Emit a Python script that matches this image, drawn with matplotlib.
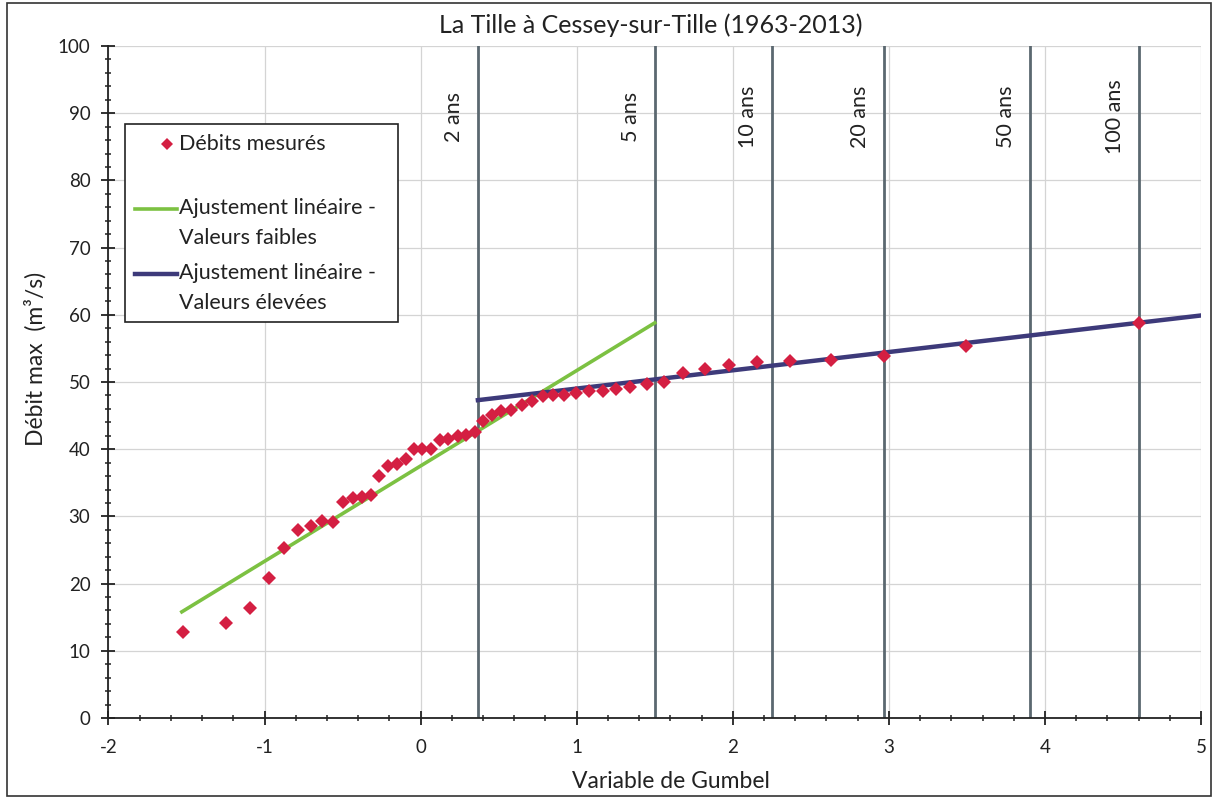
import numpy as np
import matplotlib.pyplot as plt
from matplotlib.patches import Rectangle
from matplotlib.ticker import MultipleLocator
from matplotlib.transforms import offset_copy

plt.rcParams['font.family'] = ['Lato', 'DejaVu Sans']
plt.rcParams['axes.unicode_minus'] = False

# Measured maxima: Gumbel reduced variable vs discharge (m3/s)
gumbel_x = [-1.521, -1.247, -1.094, -0.970, -0.876, -0.784, -0.705, -0.632, -0.564, -0.500,
            -0.436, -0.378, -0.318, -0.265, -0.211, -0.154, -0.096, -0.043, 0.010, 0.064,
            0.124, 0.177, 0.237, 0.290, 0.348, 0.401, 0.460, 0.518, 0.578, 0.647,
            0.711, 0.782, 0.846, 0.918, 0.995, 1.080, 1.166, 1.249, 1.341, 1.448,
            1.561, 1.682, 1.823, 1.974, 2.154, 2.368, 2.628, 2.969, 3.494, 4.602]
debit = [12.8, 14.2, 16.3, 20.9, 25.3, 28.0, 28.5, 29.3, 29.2, 32.1,
         32.7, 32.9, 33.2, 36.0, 37.5, 37.8, 38.5, 40.0, 40.0, 40.0,
         41.4, 41.5, 41.9, 42.1, 42.5, 44.2, 45.1, 45.7, 45.9, 46.6,
         47.2, 47.9, 48.1, 48.1, 48.3, 48.6, 48.6, 49.0, 49.2, 49.7,
         50.0, 51.4, 52.0, 52.5, 53.0, 53.1, 53.3, 53.8, 55.3, 58.8]

# linear fits (end points)
fit_low_x = [-1.53, 1.50]
fit_low_y = [15.8, 58.8]
fit_high_x = [0.367, 5.0]
fit_high_y = [47.3, 59.9]

# return periods
periods = ["2 ans", "5 ans", "10 ans", "20 ans", "50 ans", "100 ans"]
period_x = [0.367, 1.500, 2.250, 2.970, 3.902, 4.600]

fig = plt.figure(figsize=(12.16, 8.01), dpi=100)
ax = fig.add_axes([0.0892, 0.1036, 0.8985, 0.839])

# outer chart border
fig.patches.append(Rectangle((0.006, 0.006), 0.99, 0.99, transform=fig.transFigure,
                             fill=False, edgecolor="#333333", linewidth=1.2))

ax.set_xlim(-2, 5)
ax.set_ylim(0, 100)
ax.xaxis.set_major_locator(MultipleLocator(1))
ax.xaxis.set_minor_locator(MultipleLocator(0.2))
ax.yaxis.set_major_locator(MultipleLocator(10))
ax.yaxis.set_minor_locator(MultipleLocator(2))
ax.grid(True, which='major', color="#d4d4d4", linewidth=0.9)
ax.set_axisbelow(True)

for side in ['top', 'right']:
    ax.spines[side].set_visible(False)
for side in ['left', 'bottom']:
    ax.spines[side].set_color("#222222")
    ax.spines[side].set_linewidth(1.3)

ax.tick_params(which='major', direction='inout', length=10, width=1.3, color="#222222",
               labelsize=13.5, labelcolor="#222222", pad=8)
ax.tick_params(axis='x', which='major', pad=10)
ax.tick_params(which='minor', direction='inout', length=5, width=1.1, color="#222222")

# return period lines
for xv, lab in zip(period_x, periods):
    ax.axvline(xv, color="#5b6870", linewidth=2, zorder=2)
    tr = offset_copy(ax.transData, fig=fig, x=-24, y=0, units='dots')
    ax.text(xv, 89.5, lab, transform=tr, rotation=90, ha='center', va='center',
            fontsize=15.5, color="#222222")

ax.plot(fit_low_x, fit_low_y, color="#7cc142", linewidth=2.6, zorder=3,
        label="Ajustement linéaire -\nValeurs faibles")
ax.plot(fit_high_x, fit_high_y, color="#3d3a7a", linewidth=3.2, zorder=3,
        label="Ajustement linéaire -\nValeurs élevées")
ax.plot(gumbel_x, debit, linestyle='none', marker='D', markersize=7,
        color="#d41f42", markeredgewidth=0, zorder=4, label="Débits mesurés\n ")

handles, labels = ax.get_legend_handles_labels()
order = [2, 0, 1]
leg = ax.legend([handles[i] for i in order], [labels[i] for i in order],
                loc='upper left',
                bbox_to_anchor=(125 / 1216, 1 - 322 / 801, 273 / 1216, 198 / 801),
                bbox_transform=fig.transFigure, mode='expand', fontsize=15.5,
                frameon=True, fancybox=False, framealpha=1, edgecolor="#222222",
                handlelength=1.95, handletextpad=0.1, labelspacing=0.7,
                borderpad=0.45, borderaxespad=0, markerscale=0.85)
leg.get_frame().set_linewidth(1.2)
for t in leg.get_texts():
    t.set_linespacing(1.6)
    t.set_color("#222222")

# handles line up with the first text line; marker sits to the right of its slot
for h in leg.legend_handles:
    yd = np.asarray(h.get_ydata(), dtype=float)
    h.set_ydata(yd + 10.5)
mk = leg.legend_handles[0]
xd = np.asarray(mk.get_xdata(), dtype=float)
mk.set_xdata([xd[0], xd[0] + 0.78 * (xd[-1] - xd[0]), xd[-1]])

ax.set_xlabel("Variable de Gumbel", fontsize=16.5, color="#222222")
ax.xaxis.set_label_coords((671 - 108.5) / 1092.5, -0.079)
ax.set_ylabel("Débit max  (m³/s)", fontsize=16.5, color="#222222")
ax.yaxis.set_label_coords((47 - 108.5) / 1092.5, 0.534)
fig.text(0.535, 0.968, "La Tille à Cessey-sur-Tille (1963-2013)", ha='center',
         va='center', fontsize=18, color="#222222")

fig.savefig("out.png", dpi=100)
